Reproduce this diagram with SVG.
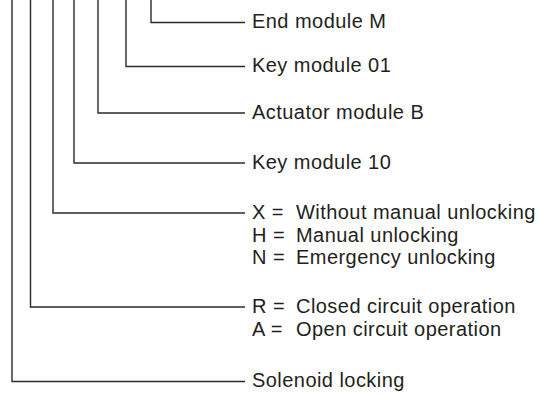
<svg xmlns="http://www.w3.org/2000/svg" width="551" height="394" viewBox="0 0 551 394">
<style>
.c{fill:none;stroke:#2b2b2b;stroke-width:1.4}
.t{font-family:"Liberation Sans",Arial,sans-serif;font-size:20px;letter-spacing:0.45px;fill:#231f20}
</style>
<rect width="551" height="394" fill="#ffffff"/>
<g id="connectors">
<polyline class="c" points="151,0 151,22.5 245,22.5"/>
<polyline class="c" points="126,0 126,66.5 245,66.5"/>
<polyline class="c" points="98,0 98,113 245,113"/>
<polyline class="c" points="74,0 74,163 245,163"/>
<polyline class="c" points="53,0 53,213 245,213"/>
<polyline class="c" points="30.5,0 30.5,307 245,307"/>
<polyline class="c" points="12,0 12,381.5 245,381.5"/>
</g>
<g id="end-module"><text class="t" x="252" y="27.5">End module M</text></g>
<g id="key-module-01"><text class="t" x="252" y="71.5">Key module 01</text></g>
<g id="actuator-module"><text class="t" x="252" y="118.5">Actuator module B</text></g>
<g id="key-module-10"><text class="t" x="252" y="168.5">Key module 10</text></g>
<g id="unlocking">
<text class="t" x="252" y="219.3">X =</text><text class="t" x="296" y="219.3">Without manual unlocking</text>
<text class="t" x="252" y="241.5">H =</text><text class="t" x="296" y="241.5">Manual unlocking</text>
<text class="t" x="252" y="264">N =</text><text class="t" x="296" y="264">Emergency unlocking</text>
</g>
<g id="operation">
<text class="t" x="252" y="313">R =</text><text class="t" x="296" y="313">Closed circuit operation</text>
<text class="t" x="252" y="336">A =</text><text class="t" x="296" y="336">Open circuit operation</text>
</g>
<g id="solenoid"><text class="t" x="252" y="387">Solenoid locking</text></g>
</svg>
